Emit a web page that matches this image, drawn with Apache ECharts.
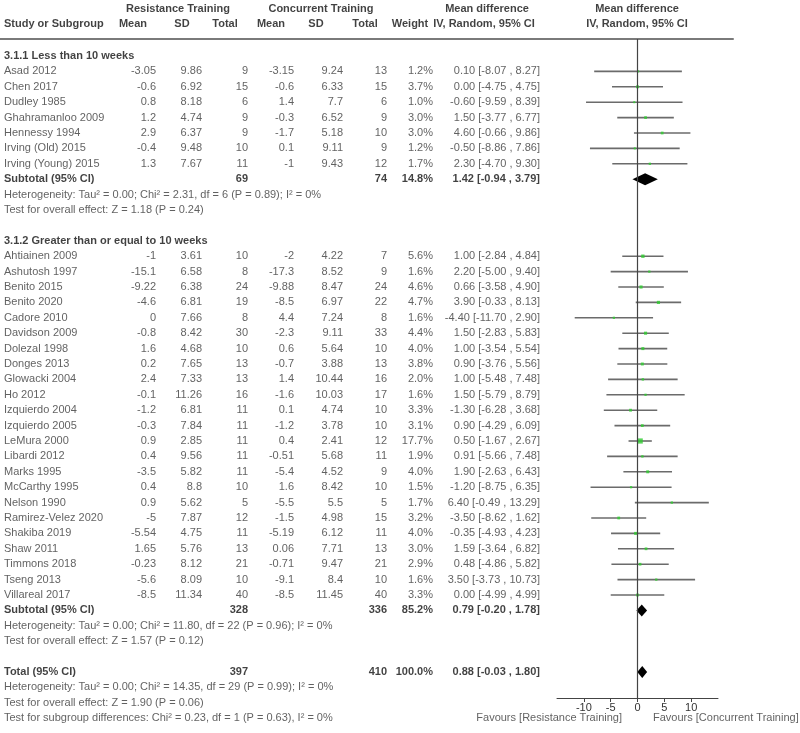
<!DOCTYPE html>
<html>
<head>
<meta charset="utf-8">
<title>Forest plot</title>
<script src="https://cdn.jsdelivr.net/npm/echarts@6/dist/echarts.min.js"></script>
<style>
  html, body { margin: 0; background: #fff; }
  #main { width: 800px; height: 733px; }
</style>
</head>
<body>
<div id="main"></div>
<script>
// study data
var groupTitles = ['3.1.1 Less than 10 weeks', '3.1.2 Greater than or equal to 10 weeks'];
var groupSize = [7, 23];
var studies = ['Asad 2012', 'Chen 2017', 'Dudley 1985', 'Ghahramanloo 2009', 'Hennessy 1994', 'Irving (Old) 2015', 'Irving (Young) 2015',
  'Ahtiainen 2009', 'Ashutosh 1997', 'Benito 2015', 'Benito 2020', 'Cadore 2010', 'Davidson 2009', 'Dolezal 1998', 'Donges 2013',
  'Glowacki 2004', 'Ho 2012', 'Izquierdo 2004', 'Izquierdo 2005', 'LeMura 2000', 'Libardi 2012', 'Marks 1995', 'McCarthy 1995',
  'Nelson 1990', 'Ramirez-Velez 2020', 'Shakiba 2019', 'Shaw 2011', 'Timmons 2018', 'Tseng 2013', 'Villareal 2017'];
var rtMean = [-3.05, -0.6, 0.8, 1.2, 2.9, -0.4, 1.3,
  -1, -15.1, -9.22, -4.6, 0, -0.8, 1.6, 0.2, 2.4, -0.1, -1.2, -0.3, 0.9, 0.4, -3.5, 0.4, 0.9, -5, -5.54, 1.65, -0.23, -5.6, -8.5];
var rtSD = [9.86, 6.92, 8.18, 4.74, 6.37, 9.48, 7.67,
  3.61, 6.58, 6.38, 6.81, 7.66, 8.42, 4.68, 7.65, 7.33, 11.26, 6.81, 7.84, 2.85, 9.56, 5.82, 8.8, 5.62, 7.87, 4.75, 5.76, 8.12, 8.09, 11.34];
var rtN = [9, 15, 6, 9, 9, 10, 11,
  10, 8, 24, 19, 8, 30, 10, 13, 13, 16, 11, 11, 11, 11, 11, 10, 5, 12, 11, 13, 21, 10, 40];
var ctMean = [-3.15, -0.6, 1.4, -0.3, -1.7, 0.1, -1,
  -2, -17.3, -9.88, -8.5, 4.4, -2.3, 0.6, -0.7, 1.4, -1.6, 0.1, -1.2, 0.4, -0.51, -5.4, 1.6, -5.5, -1.5, -5.19, 0.06, -0.71, -9.1, -8.5];
var ctSD = [9.24, 6.33, 7.7, 6.52, 5.18, 9.11, 9.43,
  4.22, 8.52, 8.47, 6.97, 7.24, 9.11, 5.64, 3.88, 10.44, 10.03, 4.74, 3.78, 2.41, 5.68, 4.52, 8.42, 5.5, 4.98, 6.12, 7.71, 9.47, 8.4, 11.45];
var ctN = [13, 15, 6, 9, 10, 9, 12,
  7, 9, 24, 22, 8, 33, 10, 13, 16, 17, 10, 10, 12, 11, 9, 10, 5, 15, 11, 13, 21, 10, 40];
var weights = [1.2, 3.7, 1.0, 3.0, 3.0, 1.2, 1.7,
  5.6, 1.6, 4.6, 4.7, 1.6, 4.4, 4.0, 3.8, 2.0, 1.6, 3.3, 3.1, 17.7, 1.9, 4.0, 1.5, 1.7, 3.2, 4.0, 3.0, 2.9, 1.6, 3.3];
var md = [0.10, 0.00, -0.60, 1.50, 4.60, -0.50, 2.30,
  1.00, 2.20, 0.66, 3.90, -4.40, 1.50, 1.00, 0.90, 1.00, 1.50, -1.30, 0.90, 0.50, 0.91, 1.90, -1.20, 6.40, -3.50, -0.35, 1.59, 0.48, 3.50, 0.00];
var ciLow = [-8.07, -4.75, -9.59, -3.77, -0.66, -8.86, -4.70,
  -2.84, -5.00, -3.58, -0.33, -11.70, -2.83, -3.54, -3.76, -5.48, -5.79, -6.28, -4.29, -1.67, -5.66, -2.63, -8.75, -0.49, -8.62, -4.93, -3.64, -4.86, -3.73, -4.99];
var ciHigh = [8.27, 4.75, 8.39, 6.77, 9.86, 7.86, 9.30,
  4.84, 9.40, 4.90, 8.13, 2.90, 5.83, 5.54, 5.56, 7.48, 8.79, 3.68, 6.09, 2.67, 7.48, 6.43, 6.35, 13.29, 1.62, 4.23, 6.82, 5.82, 10.73, 4.99];

// subtotals and overall total
var subRtN = [69, 328];
var subCtN = [74, 336];
var subWeight = [14.8, 85.2];
var subMd = [1.42, 0.79];
var subLow = [-0.94, -0.20];
var subHigh = [3.79, 1.78];
var subHet = ['Heterogeneity: Tau\u00b2 = 0.00; Chi\u00b2 = 2.31, df = 6 (P = 0.89); I\u00b2 = 0%',
  'Heterogeneity: Tau\u00b2 = 0.00; Chi\u00b2 = 11.80, df = 22 (P = 0.96); I\u00b2 = 0%'];
var subTest = ['Test for overall effect: Z = 1.18 (P = 0.24)', 'Test for overall effect: Z = 1.57 (P = 0.12)'];
var totRtN = 397, totCtN = 410, totWeight = 100.0;
var totMd = 0.88, totLow = -0.03, totHigh = 1.80;
var totNotes = ['Heterogeneity: Tau\u00b2 = 0.00; Chi\u00b2 = 14.35, df = 29 (P = 0.99); I\u00b2 = 0%',
  'Test for overall effect: Z = 1.90 (P = 0.06)',
  'Test for subgroup differences: Chi\u00b2 = 0.23, df = 1 (P = 0.63), I\u00b2 = 0%'];
var xTicks = [-10, -5, 0, 5, 10];

// layout (pixels)
var ROW0 = 56, PITCH = 15.4, TOP = 39;
var TABLE_H = 694, PLOT_H = 659;
var yMin = (TOP - ROW0) / PITCH;
var colX = [156, 202, 248, 294, 343, 387, 433, 540];
var NAME_X = 4;

var texts = [];
function txt(x, y, s, align, bold) {
  texts.push({
    value: [x, y], name: String(s),
    label: { align: align, fontWeight: bold ? 'bold' : 'normal', color: bold ? '#111' : '#3a3a3a' }
  });
}
function ci(m, lo, hi) {
  return m.toFixed(2) + ' [' + lo.toFixed(2) + ' , ' + hi.toFixed(2) + ']';
}

// header
var h1 = (9 - ROW0) / PITCH, h2 = (24 - ROW0) / PITCH;
txt(178, h1, 'Resistance Training', 'center', true);
txt(321, h1, 'Concurrent Training', 'center', true);
txt(487, h1, 'Mean difference', 'center', true);
txt(637, h1, 'Mean difference', 'center', true);
txt(NAME_X, h2, 'Study or Subgroup', 'left', true);
txt(133, h2, 'Mean', 'center', true);
txt(182, h2, 'SD', 'center', true);
txt(225, h2, 'Total', 'center', true);
txt(271, h2, 'Mean', 'center', true);
txt(316, h2, 'SD', 'center', true);
txt(365, h2, 'Total', 'center', true);
txt(410, h2, 'Weight', 'center', true);
txt(484, h2, 'IV, Random, 95% CI', 'center', true);
txt(637, h2, 'IV, Random, 95% CI', 'center', true);

var whiskers = [], squares = [], diamonds = [];
var r = 0, s = 0;
for (var g = 0; g < groupSize.length; g++) {
  txt(NAME_X, r, groupTitles[g], 'left', true);
  r++;
  for (var k = 0; k < groupSize[g]; k++) {
    txt(NAME_X, r, studies[s], 'left', false);
    txt(colX[0], r, rtMean[s], 'right', false);
    txt(colX[1], r, rtSD[s], 'right', false);
    txt(colX[2], r, rtN[s], 'right', false);
    txt(colX[3], r, ctMean[s], 'right', false);
    txt(colX[4], r, ctSD[s], 'right', false);
    txt(colX[5], r, ctN[s], 'right', false);
    txt(colX[6], r, weights[s].toFixed(1) + '%', 'right', false);
    txt(colX[7], r, ci(md[s], ciLow[s], ciHigh[s]), 'right', false);
    whiskers.push([ciLow[s], ciHigh[s], r]);
    squares.push([md[s], r, weights[s]]);
    s++; r++;
  }
  txt(NAME_X, r, 'Subtotal (95% CI)', 'left', true);
  txt(colX[2], r, subRtN[g], 'right', true);
  txt(colX[5], r, subCtN[g], 'right', true);
  txt(colX[6], r, subWeight[g].toFixed(1) + '%', 'right', true);
  txt(colX[7], r, ci(subMd[g], subLow[g], subHigh[g]), 'right', true);
  diamonds.push([subLow[g], subMd[g], subHigh[g], r]);
  r++;
  txt(NAME_X, r, subHet[g], 'left', false); r++;
  txt(NAME_X, r, subTest[g], 'left', false); r++;
  r++;
}
txt(NAME_X, r, 'Total (95% CI)', 'left', true);
txt(colX[2], r, totRtN, 'right', true);
txt(colX[5], r, totCtN, 'right', true);
txt(colX[6], r, totWeight.toFixed(1) + '%', 'right', true);
txt(colX[7], r, ci(totMd, totLow, totHigh), 'right', true);
diamonds.push([totLow, totMd, totHigh, r]);
r++;
for (var n = 0; n < totNotes.length; n++) {
  txt(NAME_X, r, totNotes[n], 'left', false);
  r++;
}
txt(622, r - 1, 'Favours [Resistance Training]', 'right', false);
txt(653, r - 1, 'Favours [Concurrent Training]', 'left', false);

var chart = echarts.init(document.getElementById('main'));
chart.setOption({
  animation: false,
  textStyle: { fontFamily: 'Liberation Sans, Arial, sans-serif', fontSize: 11 },
  grid: [
    { left: 0, top: TOP, width: 733, height: TABLE_H, outerBoundsMode: 'none' },
    { left: 557, top: TOP, width: 161, height: PLOT_H, outerBoundsMode: 'none' }
  ],
  xAxis: [
    {
      gridIndex: 0, type: 'value', min: 0, max: 733, position: 'top',
      axisLine: { show: true, onZero: false, lineStyle: { color: '#7a7a7a', width: 2 } },
      axisTick: { show: false }, axisLabel: { show: false }, splitLine: { show: false }
    },
    {
      gridIndex: 1, type: 'value', min: -15, max: 15, interval: 5, position: 'bottom',
      axisLine: { onZero: false, lineStyle: { color: '#444', width: 1 } },
      axisTick: { customValues: xTicks, length: 4, lineStyle: { color: '#444' } },
      axisLabel: { customValues: xTicks, color: '#333', fontSize: 11, margin: 4 },
      splitLine: { show: false }
    }
  ],
  yAxis: [
    { gridIndex: 0, type: 'value', inverse: true, min: yMin, max: yMin + TABLE_H / PITCH, show: false },
    { gridIndex: 1, type: 'value', inverse: true, min: yMin, max: yMin + PLOT_H / PITCH, show: false }
  ],
  series: [
    {
      type: 'scatter', xAxisIndex: 0, yAxisIndex: 0, silent: true, clip: false,
      symbolSize: 0,
      label: {
        show: true, position: 'inside', verticalAlign: 'middle',
        fontSize: 11, formatter: function (p) { return p.name; }
      },
      data: texts
    },
    {
      type: 'custom', xAxisIndex: 1, yAxisIndex: 1, silent: true, clip: false,
      encode: { x: [0, 1], y: 2 },
      renderItem: function (params, api) {
        var a = api.coord([api.value(0), api.value(2)]);
        var b = api.coord([api.value(1), api.value(2)]);
        return {
          type: 'line',
          shape: { x1: a[0], y1: a[1], x2: b[0], y2: b[1] },
          style: { stroke: '#6b6b6b', lineWidth: 1.6 }
        };
      },
      data: whiskers,
      markLine: {
        silent: true, symbol: 'none', label: { show: false },
        lineStyle: { color: '#444', width: 1.2, type: 'solid' },
        data: [{ xAxis: 0 }]
      }
    },
    {
      type: 'scatter', xAxisIndex: 1, yAxisIndex: 1, silent: true,
      symbol: 'rect',
      symbolSize: function (v) { return 1 + Math.sqrt(v[2]); },
      itemStyle: { color: '#2fcc2f' },
      data: squares
    },
    {
      type: 'custom', xAxisIndex: 1, yAxisIndex: 1, silent: true, clip: false,
      encode: { x: [0, 1, 2], y: 3 },
      renderItem: function (params, api) {
        var y = api.value(3);
        var l = api.coord([api.value(0), y]);
        var m = api.coord([api.value(1), y]);
        var h = api.coord([api.value(2), y]);
        var half = 6;
        return {
          type: 'polygon',
          shape: { points: [[l[0], l[1]], [m[0], m[1] - half], [h[0], h[1]], [m[0], m[1] + half]] },
          style: { fill: '#000' }
        };
      },
      data: diamonds
    }
  ]
});
</script>
</body>
</html>
